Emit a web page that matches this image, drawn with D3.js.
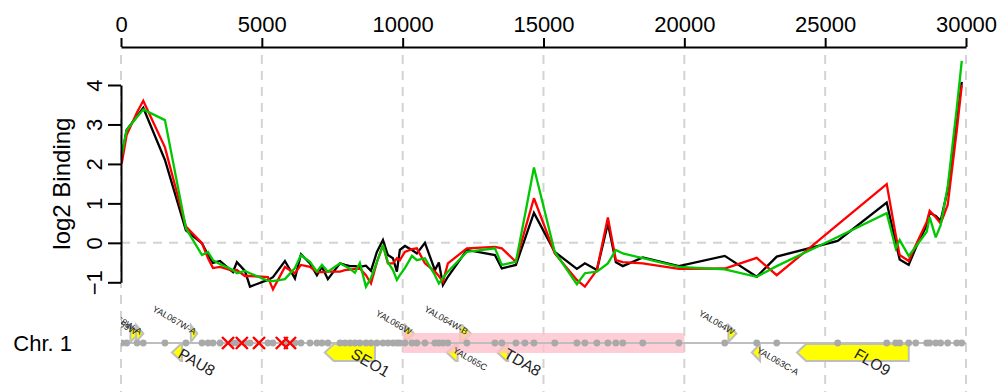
<!DOCTYPE html>
<html>
<head>
<meta charset="utf-8">
<script src="https://cdn.jsdelivr.net/npm/d3@7"></script>
<style>
  html, body { margin: 0; padding: 0; background: #fff; }
  svg { display: block; font-family: "Liberation Sans", Arial, Helvetica, sans-serif; }
</style>
</head>
<body>
<svg id="chart" width="1000" height="392"></svg>
<script>
// Probe positions along chromosome 1 (bp)
const probePos = [25, 200, 570, 790, 1560, 2305, 2875, 3090, 3265, 3515, 3975, 4115, 4400, 4580,
  5215, 5395, 5820, 6175, 6390, 6710, 6955, 7135, 7345, 7775, 7950, 8130, 8305, 8480, 8695, 8875,
  9085, 9300, 9475, 9655, 9795, 9900, 10080, 10330, 10505, 10790, 11145, 11285, 11430, 11605,
  12280, 13275, 13520, 14020, 14340, 14660, 15400, 16185, 16470, 16895, 17285, 17570, 17815,
  18525, 19805, 21435, 22570, 23280, 25445, 27185, 27505, 27645, 27965, 28215, 28605, 28710,
  28925, 29100, 29350, 29670, 29850];

// log2 binding per probe, three samples
const bindingBlack = [2.18, 2.86, 3.21, 3.42, 2.10, 0.32, -0.01, -0.31, -0.51, -0.46, -0.74, -0.49, -0.71, -1.11,
  -0.94, -0.87, -0.46, -0.90, -0.29, -0.52, -0.82, -0.61, -0.92, -0.52, -0.56, -0.59, -0.59, -0.61, -0.58, -0.71,
  -0.23, 0.07, -0.31, -0.39, -0.73, -0.18, -0.08, -0.18, -0.27, 0.00, -0.69, -0.50, -1.07, -0.86,
  -0.18, -0.31, -0.65, -0.56, 0.10, 0.76, -0.23, -0.66, -0.52, -0.69, 0.49, -0.49, -0.59,
  -0.37, -0.59, -0.33, -0.86, -0.35, 0.05, 1.02, 0.00, -0.42, -0.56, -0.13, 0.45, 0.76,
  0.68, 0.56, 1.34, 3.04, 4.08];
const bindingRed = [2.01, 2.73, 3.31, 3.60, 2.42, 0.41, -0.01, -0.39, -0.64, -0.61, -0.71, -0.69, -0.84, -0.84,
  -0.87, -1.18, -0.61, -0.77, -0.56, -0.61, -0.74, -0.74, -0.73, -0.73, -0.69, -0.68, -0.66, -0.65, -0.82, -1.03,
  -0.49, -0.06, -0.52, -0.52, -0.39, -0.44, -0.23, -0.16, -0.14, -0.52, -0.73, -0.84, -0.99, -0.52,
  -0.14, -0.10, -0.14, -0.48, 0.33, 1.13, -0.27, -0.94, -1.11, -0.69, 0.64, -0.44, -0.49,
  -0.52, -0.66, -0.65, -0.38, -0.82, 0.46, 1.49, 0.20, -0.31, -0.46, -0.06, 0.53, 0.81,
  0.65, 0.49, 0.96, 2.84, 4.00];
const bindingGreen = [2.23, 2.86, 3.19, 3.38, 3.11, 0.37, -0.31, -0.23, -0.44, -0.54, -0.69, -0.77, -0.71, -0.77,
  -0.96, -0.97, -0.92, -0.64, -0.31, -0.48, -0.73, -0.56, -0.73, -0.52, -0.59, -0.66, -0.76, -0.51, -1.11, -0.89,
  -0.49, -0.06, -0.49, -0.69, -0.94, -0.82, -0.64, -0.33, -0.44, -0.39, -0.82, -1.03, -0.89, -0.73,
  -0.23, -0.14, -0.56, -0.48, 0.70, 1.91, -0.23, -1.05, -0.77, -0.73, -0.52, -0.18, -0.27,
  -0.39, -0.61, -0.67, -0.86, -0.59, 0.15, 0.75, -0.14, 0.07, -0.33, -0.10, 0.28, 0.65,
  0.14, 0.45, 1.42, 3.40, 4.61];

// Probes flagged as excluded (bp)
const excludedPos = [3800, 4290, 4900, 5710, 6000];

// Annotated features on the window
const geneNames   = ["YAL069W", "YAL068W-A", "PAU8", "YAL067W-A", "SEO1", "YAL066W", "YAL065C",
                     "YAL064W-B", "TDA8", "YAL064W", "YAL063C-A", "FLO9"];
const geneStarts  = [335, 538, 1807, 2480, 7235, 10091, 11565, 12046, 13363, 21566, 22395, 24000];
const geneEnds    = [649, 792, 2169, 2707, 9016, 10399, 11951, 12426, 13743, 21850, 22685, 27968];
const geneStrands = ["+", "+", "-", "+", "-", "+", "-", "+", "-", "+", "-", "-"];

// Highlighted interval
const regionStarts = [10000];
const regionEnds   = [20000];

const xTicks = [0, 5000, 10000, 15000, 20000, 25000, 30000];
const yTicks = [-1, 0, 1, 2, 3, 4];
const chromLabel = "Chr. 1";
const yTitle = "log2 Binding";

const H = 392;
const svg = d3.select("#chart");
const x = d3.scaleLinear().domain([0, 30000]).range([121, 966]);
const y = d3.scaleLinear().domain([-1, 4]).range([282.3, 85]);
const trackY = 343;

svg.append("defs").append("clipPath").attr("id", "plotClip")
  .append("rect").attr("x", x(0)).attr("y", 0).attr("width", x(30000) - x(0)).attr("height", H);

// dashed guides
const grid = svg.append("g")
  .attr("stroke", "#d3d3d3").attr("stroke-width", 2).attr("stroke-dasharray", "9,7").attr("fill", "none");
grid.selectAll("line.v").data(xTicks).join("line").attr("class", "v")
  .attr("x1", d => x(d)).attr("x2", d => x(d)).attr("y1", 55).attr("y2", H);
grid.append("line")
  .attr("x1", x(0)).attr("x2", x(30000)).attr("y1", y(0)).attr("y2", y(0));

// binding profiles
const series = [
  { values: bindingBlack, color: "#000000" },
  { values: bindingRed, color: "#ff0000" },
  { values: bindingGreen, color: "#00c800" }
];
const line = d3.line().x((d, i) => x(probePos[i])).y(d => y(d));
svg.append("g").attr("clip-path", "url(#plotClip)")
  .selectAll("path").data(series).join("path")
  .attr("d", d => line(d.values))
  .attr("fill", "none").attr("stroke", d => d.color)
  .attr("stroke-width", 2.3).attr("stroke-linejoin", "miter").attr("stroke-miterlimit", 3);

// top axis
const gx = svg.append("g").attr("transform", "translate(0,47)")
  .call(d3.axisTop(x).tickValues(xTicks).tickSize(9).tickSizeOuter(0).tickPadding(6).tickFormat(d3.format("d")));
gx.attr("font-size", 22).attr("font-family", null);
gx.select(".domain").attr("stroke-width", 2);
gx.selectAll(".tick line").attr("stroke-width", 2);
gx.selectAll(".tick text").attr("fill", "#000");

// left axis
const gy = svg.append("g").attr("transform", "translate(121,0)")
  .call(d3.axisLeft(y).tickValues(yTicks).tickSize(13).tickSizeOuter(0).tickFormat(d3.format("d")));
gy.attr("font-size", 22).attr("font-family", null);
gy.select(".domain").attr("stroke-width", 2);
gy.selectAll(".tick line").attr("stroke-width", 2);
gy.selectAll(".tick text")
  .attr("x", null).attr("dy", null).attr("fill", "#000")
  .attr("text-anchor", "middle")
  .attr("transform", "translate(-19.5,0) rotate(-90)");

svg.append("text")
  .attr("transform", `translate(70,${(y(-1) + y(4)) / 2}) rotate(-90)`)
  .attr("text-anchor", "middle").attr("font-size", 24).text(yTitle);

// chromosome track
svg.append("text").attr("x", 72).attr("y", trackY + 8)
  .attr("text-anchor", "end").attr("font-size", 22).text(chromLabel);

const track = svg.append("g").attr("clip-path", "url(#plotClip)");
const genes = geneNames.map((name, i) => ({
  name, start: geneStarts[i], end: geneEnds[i], strand: geneStrands[i]
}));

function genePoints(g) {
  const x1 = x(g.start), x2 = x(g.end);
  const head = Math.min(9, x2 - x1);
  if (g.strand === "+") {
    const t = 325, b = 342, m = (t + b) / 2;
    return [[x1, t], [x2 - head, t], [x2, m], [x2 - head, b], [x1, b]];
  }
  const t = 344, b = 361, m = (t + b) / 2;
  return [[x2, t], [x1 + head, t], [x1, m], [x1 + head, b], [x2, b]];
}

track.selectAll("polygon.gene").data(genes).join("polygon").attr("class", "gene")
  .attr("points", d => genePoints(d).map(p => p.join(",")).join(" "))
  .attr("fill", "#ffff00").attr("stroke", "#bebebe").attr("stroke-width", 2);

track.selectAll("rect.region").data(regionStarts).join("rect").attr("class", "region")
  .attr("x", (d, i) => x(d)).attr("width", (d, i) => x(regionEnds[i]) - x(d))
  .attr("y", 333).attr("height", 20)
  .attr("fill", "#ffc0cb").attr("fill-opacity", 0.8);

track.append("line").attr("x1", x(0)).attr("x2", x(30000))
  .attr("y1", trackY).attr("y2", trackY).attr("stroke", "#bebebe").attr("stroke-width", 2);

track.selectAll("circle.probe").data(probePos).join("circle").attr("class", "probe")
  .attr("cx", d => x(d)).attr("cy", trackY).attr("r", 3.4).attr("fill", "#a9a9a9");

track.selectAll("path.excluded").data(excludedPos).join("path").attr("class", "excluded")
  .attr("d", d => {
    const cx = x(d), s = 6;
    return `M${cx - s},${trackY - s}L${cx + s},${trackY + s}M${cx - s},${trackY + s}L${cx + s},${trackY - s}`;
  })
  .attr("stroke", "#ff0000").attr("stroke-width", 2.4).attr("fill", "none");

const systematic = /^Y[A-P][LR]\d{3}/;
track.selectAll("text.gene-label").data(genes).join("text").attr("class", "gene-label")
  .attr("transform", d => {
    const cx = x((d.start + d.end) / 2);
    const small = systematic.test(d.name);
    const yy = d.strand === "+" ? 335 : (small ? 352 : 357);
    return `translate(${cx},${yy}) rotate(30)`;
  })
  .attr("text-anchor", d => d.strand === "+" ? "end" : "start")
  .attr("font-size", d => systematic.test(d.name) ? 9 : 15.5)
  .attr("fill", "#222")
  .text(d => d.name);
</script>
</body>
</html>
